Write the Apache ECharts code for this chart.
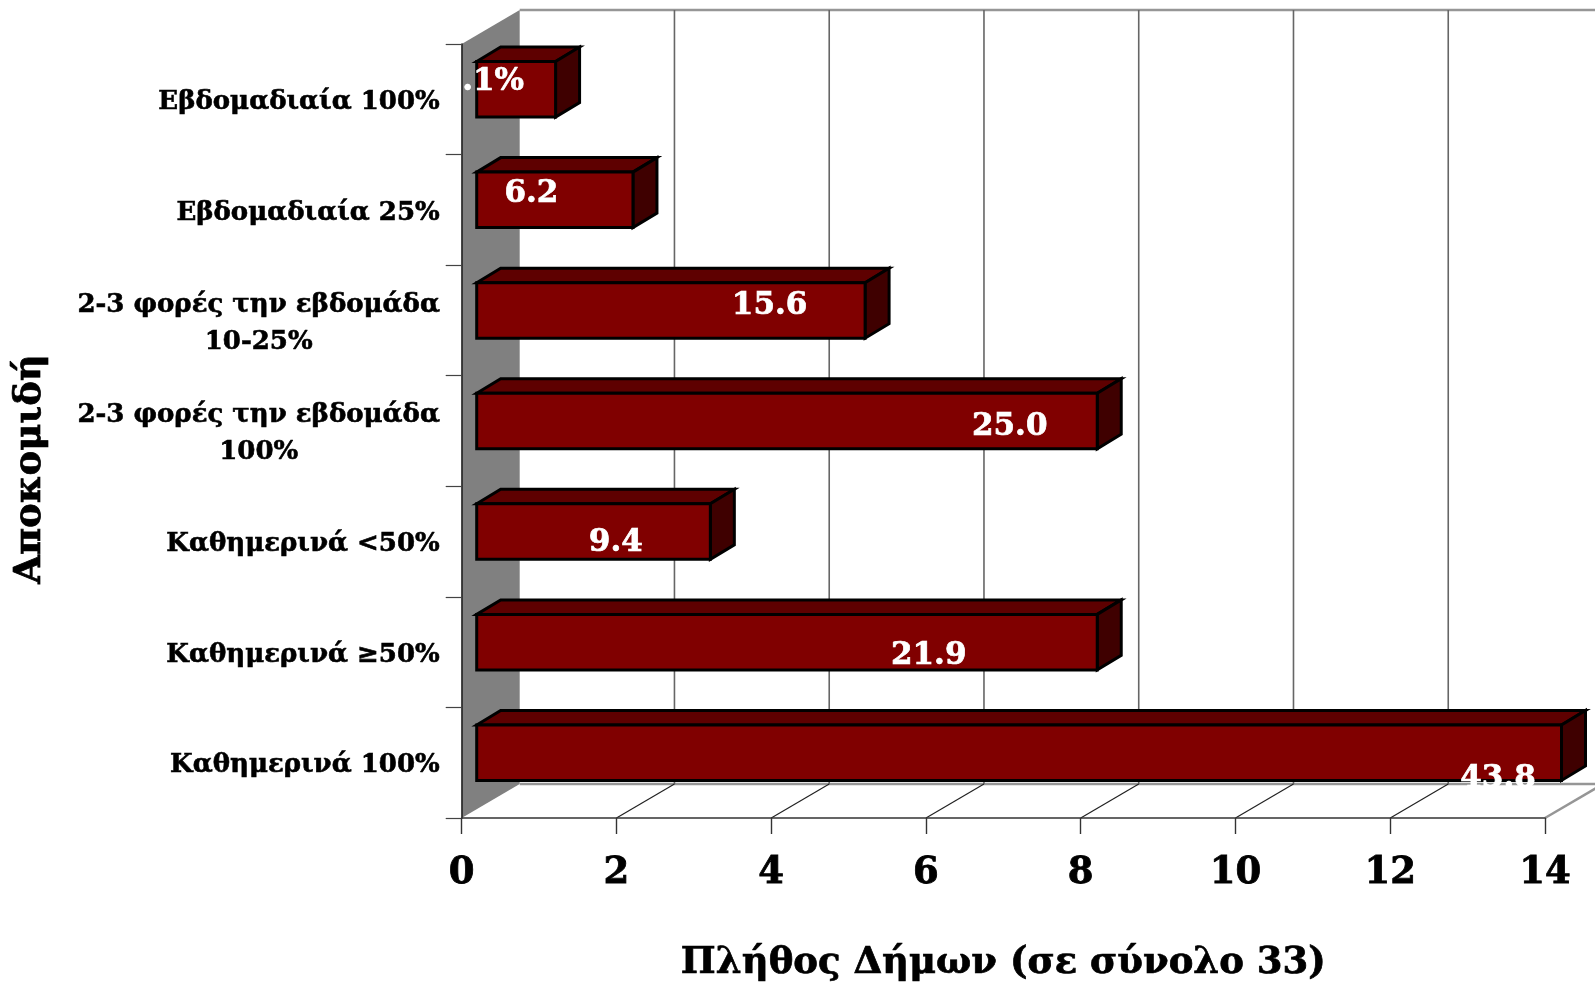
<!DOCTYPE html>
<html><head><meta charset="utf-8">
<style>html,body{margin:0;padding:0;background:#fff}#c{width:1595px;height:983px}</style>
<script src="https://cdn.jsdelivr.net/npm/echarts@6/dist/echarts.min.js"></script>
</head><body><div id="c"></div>
<script>
const categories = ['Καθημερινά 100%','Καθημερινά ≥50%','Καθημερινά <50%','2-3 φορές την εβδομάδα\n100%','2-3 φορές την εβδομάδα\n10-25%','Εβδομαδιαία 25%','Εβδομαδιαία 100%'];
const barValues = [14,8,3,8,5,2,1];
const percentLabels = ['43.8','21.9','9.4','25.0','15.6','6.2','.1%'];
const xTicks = [0,2,4,6,8,10,12,14];
const xName = 'Πλήθος Δήμων (σε σύνολο 33)';
const yName = 'Αποκομιδή';

const FONT = '"DejaVu Serif"';
const WALL = [58,-34], FACE = 15, FACE_R = 16.5, DEPTH = [24,-14.5], H = 55.5, SHIFT = -10;
// placement of each percentage label relative to its bar's right end / centre
const labelDx = [-62,-167,-93,-86,-94,-100,-61];
const labelDy = [16,4,1.5,-4,-14,-16,-17];
const poly = (pts, fill, stroke, lw) => ({type:'polygon',shape:{points:pts},style:{fill:fill,stroke:stroke||null,lineWidth:lw||0,lineJoin:'miter'}});
const line = (a,b,stroke,lw) => ({type:'line',shape:{x1:a[0],y1:a[1],x2:b[0],y2:b[1]},style:{stroke:stroke,lineWidth:lw}});

function renderWall(params, api){
  const bl = api.coord([0,0]), band = api.size([0,1])[1];
  const tr = api.coord([14,categories.length-1]);
  const bottom = bl[1]+band/2, top = tr[1]-band/2, x0 = bl[0];
  const kids = [poly([[x0,bottom],[x0,top],[x0+WALL[0],top+WALL[1]],[x0+WALL[0],bottom+WALL[1]]],'#808080')];
  kids.push(line([x0+WALL[0],top+WALL[1]],[1700,top+WALL[1]],'#969696',2.5));
  kids.push(line([x0+WALL[0],bottom+WALL[1]],[1700,bottom+WALL[1]],'#969696',2.5));
  return {type:'group',children:kids};
}
function renderGrid(params, api){
  const p = api.coord([api.value(0),0]), band = api.size([0,1])[1];
  const bottom = p[1]+band/2, top = api.coord([0,categories.length-1])[1]-band/2;
  const last = api.value(0) === 14, kids = [];
  if (api.value(0) !== 0) {
    kids.push(line([p[0]+WALL[0],top+WALL[1]],[p[0]+WALL[0],bottom+WALL[1]],'#666',1.6));
    kids.push(line([p[0],bottom],[p[0]+WALL[0],bottom+WALL[1]],last?'#969696':'#222',last?2.5:1.2));
  }
  return {type:'group',children:kids};
}
function renderBar(params, api){
  const v = api.coord([api.value(0),api.value(1)]), o = api.coord([0,api.value(1)]);
  const l = o[0]+FACE, r = v[0]+FACE_R, t = v[1]+SHIFT-H/2, b = v[1]+SHIFT+H/2;
  const s = {stroke:'#000',lw:3};
  return {type:'group',children:[
    poly([[l,t],[l+DEPTH[0],t+DEPTH[1]],[r+DEPTH[0],t+DEPTH[1]],[r,t]],'#5e0000',s.stroke,s.lw),
    poly([[r,t],[r+DEPTH[0],t+DEPTH[1]],[r+DEPTH[0],b+DEPTH[1]],[r,b]],'#3f0000',s.stroke,s.lw),
    poly([[l,t],[r,t],[r,b],[l,b]],'#800000',s.stroke,s.lw)
  ]};
}
function renderLabel(params, api){
  const i = params.dataIndex, v = api.coord([api.value(0),api.value(1)]);
  return {type:'text',z2:50,style:{x:v[0]+FACE+labelDx[i],y:v[1]+labelDy[i],text:percentLabels[i],
    fill:'#fff',stroke:'#fff',lineWidth:0.7,font:'bold 31px '+FONT,align:'center',verticalAlign:'middle'}};
}
const heavy = w => ({textBorderColor:'#000',textBorderWidth:w});
const barData = barValues.map((v,i)=>[v,i]);
const chart = echarts.init(document.getElementById('c'),null,{renderer:'canvas'});
chart.setOption({
  animation:false,
  backgroundColor:'#fff',
  grid:{left:461.7,right:50,top:44,bottom:165,containLabel:false,outerBoundsMode:'none'},
  xAxis:{type:'value',min:0,max:14,interval:2,z:6,
    name:xName,nameLocation:'middle',nameGap:127,
    nameTextStyle:Object.assign({fontFamily:FONT,fontWeight:'bold',fontSize:37,color:'#000'},heavy(0.7)),
    axisLine:{show:true,onZero:false,lineStyle:{color:'#333',width:1.6}},
    axisTick:{show:true,length:16,lineStyle:{color:'#333',width:1.4}},
    axisLabel:Object.assign({margin:37,fontFamily:FONT,fontWeight:'bold',fontSize:37,color:'#000',formatter:v=>String(v)},heavy(0.8)),
    splitLine:{show:false}},
  yAxis:{type:'category',data:categories,z:6,
    name:yName,nameLocation:'middle',nameGap:413,nameRotate:90,
    nameTextStyle:Object.assign({fontFamily:FONT,fontWeight:'bold',fontSize:37,color:'#000',padding:[0,76,0,0]},heavy(0.7)),
    axisLine:{show:true,onZero:false,lineStyle:{color:'#222',width:1.6}},
    axisTick:{show:true,length:16,lineStyle:{color:'#444',width:1.2}},
    axisLabel:{margin:22,color:'#000',interval:0,padding:[6,0,0,0],
      formatter:s=>s.indexOf('\n')>=0?s.split('\n').map(x=>'{b|'+x+'}').join('\n'):'{a|'+s+'}',
      rich:{
        a:Object.assign({fontFamily:FONT,fontWeight:'bold',fontSize:26,color:'#000',align:'right'},heavy(0.6)),
        b:Object.assign({fontFamily:FONT,fontWeight:'bold',fontSize:26,color:'#000',width:362,align:'center',lineHeight:37},heavy(0.6))
      }},
    splitLine:{show:false}},
  series:[
    {type:'custom',name:'wall',coordinateSystem:'cartesian2d',z:1,silent:true,renderItem:renderWall,data:[[0,0]],encode:{x:0,y:1}},
    {type:'custom',name:'grid',coordinateSystem:'cartesian2d',z:2,silent:true,renderItem:renderGrid,data:xTicks.map(t=>[t,0]),encode:{x:0,y:1}},
    {type:'custom',name:'bars',coordinateSystem:'cartesian2d',z:3,renderItem:renderBar,data:barData,encode:{x:0,y:1}},
    {type:'custom',name:'labels',coordinateSystem:'cartesian2d',z:8,silent:true,renderItem:renderLabel,data:barData,encode:{x:0,y:1}}
  ]
});
</script></body></html>
